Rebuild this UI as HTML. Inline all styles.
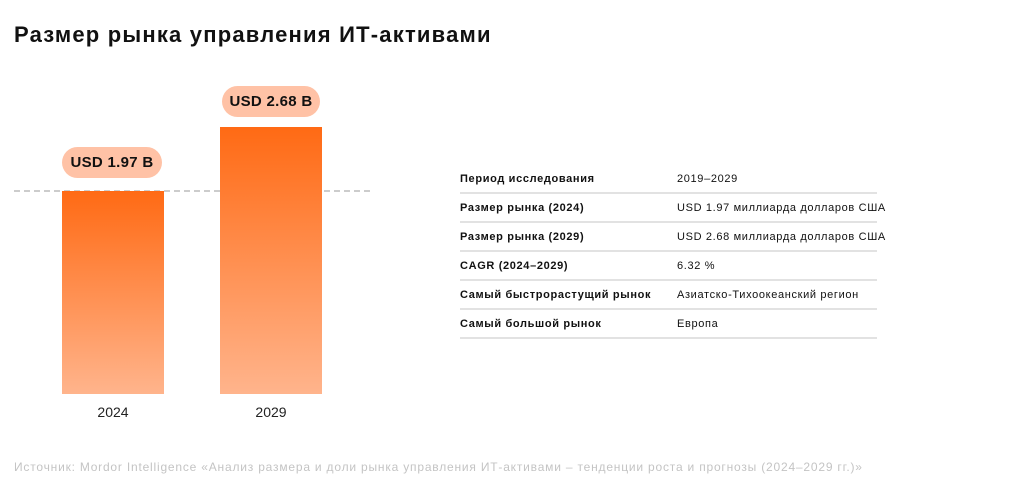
<!DOCTYPE html>
<html><head><meta charset="utf-8"><style>
body{margin:0;width:1024px;height:503px;background:#fff;font-family:"Liberation Sans","Noto Sans CJK SC",sans-serif;position:relative;overflow:hidden}
.a{position:absolute}
.title{left:14px;top:22px;font-size:22px;font-weight:bold;color:#111;letter-spacing:1.2px}
.bar{background:linear-gradient(#ff6a14,#ffb48c)}
.pill{background:#ffc2a6;border-radius:16px;font-weight:bold;font-size:15px;color:#111;text-align:center;line-height:32px;height:31px;letter-spacing:0.3px}
.yr{font-size:14px;color:#222;width:102px;text-align:center}
.row{left:460px;width:417px;height:28px;border-bottom:2px solid #e2e2e2;font-size:11px;color:#111;letter-spacing:0.65px;white-space:nowrap}
.row b{position:absolute;left:0;top:9px}
.row span{position:absolute;left:217px;top:9px}
</style></head><body>
<div class="a title">Размер рынка управления ИТ-активами</div>
<div class="a" style="left:14px;top:190px;width:356px;border-top:2px dashed #ccc"></div>
<div class="a bar" style="left:62px;top:191px;width:102px;height:203px"></div>
<div class="a bar" style="left:220px;top:127px;width:102px;height:267px"></div>
<div class="a pill" style="left:62px;top:147px;width:100px">USD 1.97 B</div>
<div class="a pill" style="left:222px;top:86px;width:98px">USD 2.68 B</div>
<div class="a yr" style="left:62px;top:404px">2024</div>
<div class="a yr" style="left:220px;top:404px">2029</div>
<div class="a row" style="top:164px"><b>Период исследования</b><span>2019–2029</span></div>
<div class="a row" style="top:193px"><b>Размер рынка (2024)</b><span>USD 1.97 миллиарда долларов США</span></div>
<div class="a row" style="top:222px"><b>Размер рынка (2029)</b><span>USD 2.68 миллиарда долларов США</span></div>
<div class="a row" style="top:251px"><b>CAGR (2024–2029)</b><span>6.32 %</span></div>
<div class="a row" style="top:280px"><b>Самый быстрорастущий рынок</b><span>Азиатско-Тихоокеанский регион</span></div>
<div class="a row" style="top:309px"><b>Самый большой рынок</b><span>Европа</span></div>
<div class="a" style="left:14px;top:460px;font-size:12px;color:#c4c4c4;letter-spacing:0.8px;white-space:nowrap">Источник: Mordor Intelligence «Анализ размера и доли рынка управления ИТ-активами – тенденции роста и прогнозы (2024–2029 гг.)»</div>
</body></html>
